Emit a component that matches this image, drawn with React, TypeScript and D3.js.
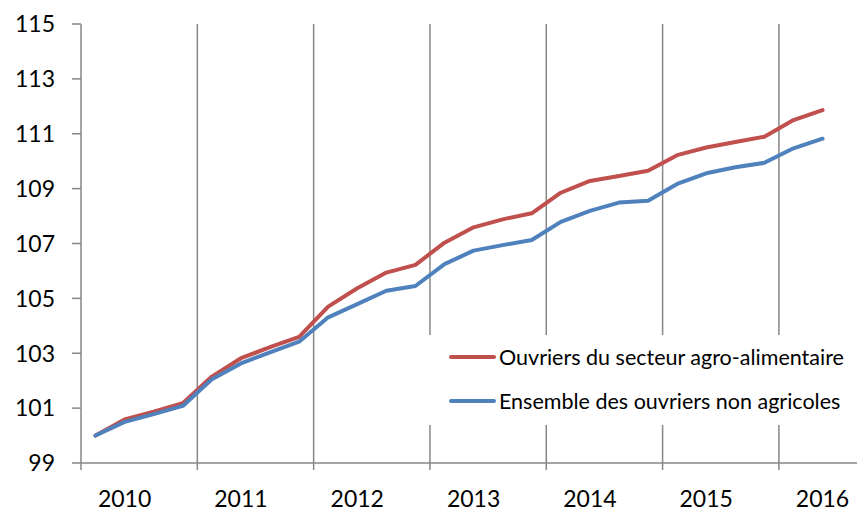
import React, { useEffect, useRef } from 'react';
import * as d3 from 'd3';

// quarterly index, 2010 Q1 = 100 (2016 Q3 category is present but empty)
const years = ['2010', '2011', '2012', '2013', '2014', '2015', '2016'];
const quarterCount = 27;
const agroValues = [
  100.0, 100.59, 100.87, 101.18, 102.15, 102.82, 103.22, 103.6,
  104.7, 105.37, 105.94, 106.22, 107.03, 107.59, 107.88, 108.1,
  108.85, 109.28, 109.46, 109.65, 110.22, 110.5, 110.7, 110.89,
  111.5, 111.86,
];
const allValues = [
  100.0, 100.5, 100.78, 101.08, 102.05, 102.63, 103.03, 103.42,
  104.31, 104.79, 105.28, 105.45, 106.25, 106.74, 106.94, 107.13,
  107.79, 108.19, 108.49, 108.56, 109.17, 109.56, 109.78, 109.94,
  110.47, 110.82,
];
const yTicks = [99, 101, 103, 105, 107, 109, 111, 113, 115];
const seriesNames = [
  'Ouvriers du secteur agro-alimentaire',
  'Ensemble des ouvriers non agricoles',
];
const seriesColors = ['#C0504D', '#4F81BD'];

const W = 857;
const H = 511;
const FONT = 'Lato, "Liberation Sans", sans-serif';

const App = () => {
  const ref = useRef<SVGSVGElement>(null);

  useEffect(() => {
    const svg = d3.select(ref.current);
    svg.selectAll('*').remove();

    const left = 81;
    const qw = 29.08;
    const x = d3.scaleLinear().domain([0, quarterCount]).range([left, left + quarterCount * qw]);
    const y = d3.scaleLinear().domain([99, 115]).range([463, 24]);
    const axisColor = '#878787';

    // vertical year separators (grid + tick below axis)
    const bounds = d3.range(0, quarterCount, 4);
    svg.append('g')
      .selectAll('line')
      .data(bounds)
      .enter().append('line')
      .attr('x1', d => x(d))
      .attr('x2', d => x(d))
      .attr('y1', y(115))
      .attr('y2', y(99) + 7)
      .attr('stroke', axisColor)
      .attr('stroke-width', 1.5);

    // x axis line
    svg.append('line')
      .attr('x1', left).attr('x2', x(quarterCount))
      .attr('y1', y(99)).attr('y2', y(99))
      .attr('stroke', axisColor).attr('stroke-width', 1.5);

    // y axis ticks + labels
    const yg = svg.append('g');
    yg.selectAll('line')
      .data(yTicks)
      .enter().append('line')
      .attr('x1', left - 9).attr('x2', left)
      .attr('y1', d => y(d)).attr('y2', d => y(d))
      .attr('stroke', axisColor).attr('stroke-width', 1.5);
    yg.selectAll('text')
      .data(yTicks)
      .enter().append('text')
      .attr('x', 55)
      .attr('y', d => y(d))
      .attr('dy', '0.36em')
      .attr('text-anchor', 'end')
      .style('font-family', FONT)
      .style('font-size', '23px')
      .style('fill', '#000')
      .text(d => d);

    // year labels, placed between the 2nd and 3rd quarter of each year
    svg.append('g')
      .selectAll('text')
      .data(years)
      .enter().append('text')
      .attr('x', (d, i) => x(i * 4 + 1.5))
      .attr('y', 507)
      .attr('text-anchor', 'middle')
      .style('font-family', FONT)
      .style('font-size', '23px')
      .style('fill', '#000')
      .text(d => d);

    const line = d3.line<number>()
      .x((d, i) => x(i + 0.5))
      .y(d => y(d));

    [agroValues, allValues].forEach((vals, k) => {
      svg.append('path')
        .datum(vals)
        .attr('d', line)
        .attr('fill', 'none')
        .attr('stroke', seriesColors[k])
        .attr('stroke-width', 4)
        .attr('stroke-linejoin', 'round')
        .attr('stroke-linecap', 'round');
    });

    // legend with white background over the grid
    const lg = svg.append('g');
    lg.append('rect')
      .attr('x', 426).attr('y', 335)
      .attr('width', W - 426).attr('height', 90)
      .attr('fill', '#fff');
    seriesNames.forEach((name, k) => {
      const ly = 357 + k * 44;
      lg.append('line')
        .attr('x1', 451).attr('x2', 494)
        .attr('y1', ly).attr('y2', ly)
        .attr('stroke', seriesColors[k])
        .attr('stroke-width', 4)
        .attr('stroke-linecap', 'round');
      lg.append('text')
        .attr('x', 499)
        .attr('y', ly)
        .attr('dy', '0.35em')
        .style('font-family', FONT)
        .style('font-size', '21.5px')
        .style('fill', '#000')
        .text(name);
    });
  }, []);

  return (
    <svg
      ref={ref}
      width={W}
      height={H}
      style={{ position: 'absolute', left: 0, top: 0, background: '#fff' }}
    />
  );
};

export default App;
